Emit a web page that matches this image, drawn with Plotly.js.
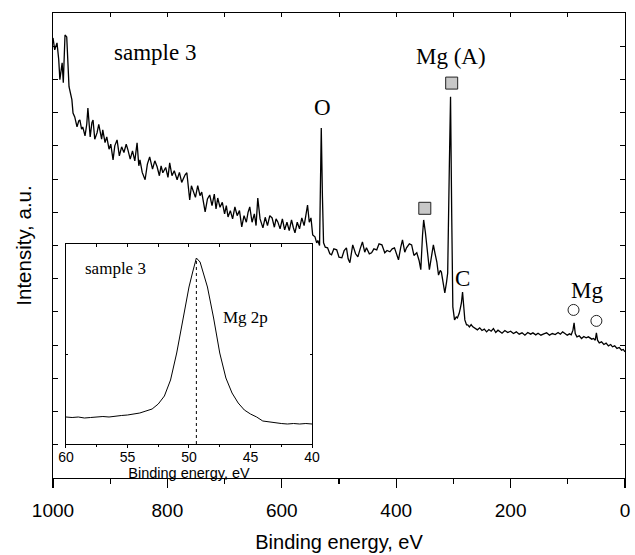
<!DOCTYPE html>
<html><head><meta charset="utf-8">
<script src="https://cdn.plot.ly/plotly-3.0.1.min.js"></script>
<style>html,body{margin:0;padding:0;background:#fff}#chart{width:635px;height:555px}</style>
</head><body><div id="chart"></div><script>
// Survey spectrum (binding energy, eV) and intensity (a.u.)
const energy = [
1000,997,993,990,988,984,982,979,976,972,
967,965,962,958,955,953,950,948,944,941,
939,935,932,930,927,923,920,918,915,913,
909,906,902,899,895,892,888,884,880,876,
872,869,865,861,857,853,850,848,844,839,
835,831,826,822,818,814,811,808,803,799,
796,792,788,783,779,775,769,766,761,758,
755,751,747,743,740,737,734,730,726,722,
718,715,712,708,704,700,697,694,690,686,
682,678,674,670,666,662,659,656,652,648,
645,642,638,633,629,625,621,617,613,610,
607,603,599,595,591,587,583,580,577,573,
569,565,561,558,555,552,549,546,542,539,
537,534,533,531,529,527,524,520,516,513,
509,504,500,495,491,487,484,481,478,476,
471,467,463,459,455,452,447,443,439,434,
430,425,420,416,411,407,403,399,396,392,
389,385,382,377,373,369,364,360,357,354,
352,349,347,344,342,338,335,332,329,326,
323,321,318,315,312,310,307,305,303,301,
298,295,293,290,288,286,284,282,280,277,
275,272,269,266,262,258,254,250,246,242,
238,234,230,226,222,219,215,210,205,200,
195,190,185,180,175,170,165,161,156,152,
147,142,137,132,127,122,117,113,109,105,
101,97,94,91,89,87,84,80,76,72,
68,64,62,58,55,52,50,48,45,41,
37,33,29,25,22,18,14,10,6,3,0];
const intensity = [
13.25,12.89,13.10,12.60,11.99,12.50,11.90,13.34,13.28,11.78,
11.39,10.99,10.87,10.57,10.75,10.78,10.50,10.57,10.30,10.65,
11.14,10.27,10.70,10.78,10.20,10.39,10.65,10.48,10.20,10.48,
10.10,10.27,9.90,10.05,9.58,10.00,10.18,9.70,9.97,9.80,
10.05,9.88,9.60,9.85,9.55,10.09,9.40,9.58,9.20,8.98,
9.45,9.67,9.30,9.55,9.37,9.10,9.40,9.19,9.35,9.05,
9.49,9.10,9.25,8.98,9.20,8.90,9.13,9.19,8.37,8.80,
8.67,8.45,8.80,8.50,8.61,8.30,8.01,8.40,8.52,8.20,
8.55,8.10,8.43,8.15,8.30,7.95,8.20,7.86,8.05,7.80,
8.16,7.90,8.05,7.56,7.90,7.70,8.00,8.16,7.70,7.95,
7.60,8.43,7.80,7.53,7.85,7.60,7.90,7.83,7.55,7.80,
7.71,7.50,7.80,7.47,7.70,7.45,7.77,7.55,7.38,7.70,
7.50,7.83,7.60,7.90,8.22,7.70,7.83,7.32,7.26,7.08,
7.15,7.00,8.00,10.54,8.50,7.08,6.95,6.93,6.75,6.72,
6.90,6.87,6.65,6.63,6.85,6.93,6.60,6.48,6.80,7.02,
6.75,6.66,6.90,7.11,6.80,6.93,6.75,6.78,6.90,6.87,
7.05,7.02,6.78,6.85,6.81,6.90,6.93,6.70,6.57,6.95,
7.17,6.80,6.93,7.05,7.02,6.70,6.78,6.55,6.27,7.30,
7.77,7.40,7.10,6.60,6.27,6.70,7.02,6.75,6.51,6.11,
6.25,6.20,5.90,5.57,5.90,6.17,9.50,11.48,8.00,5.15,
4.76,4.85,4.82,4.95,5.10,5.27,5.60,5.00,4.76,4.61,
4.61,4.55,4.62,4.55,4.50,4.46,4.52,4.44,4.48,4.40,
4.47,4.42,4.50,4.38,4.45,4.40,4.36,4.44,4.38,4.42,
4.35,4.40,4.33,4.37,4.30,4.38,4.33,4.37,4.31,4.36,
4.30,4.34,4.37,4.30,4.35,4.32,4.38,4.33,4.40,4.35,
4.30,4.34,4.31,4.45,4.67,4.35,4.25,4.28,4.20,4.26,
4.22,4.25,4.22,4.18,4.20,4.15,4.37,4.15,4.07,4.10,
4.02,4.06,3.98,4.02,3.95,3.98,3.90,3.93,3.85,3.87,3.80];

// Peak markers (Auger squares, Mg circles)
const squareEnergy = [303, 350];
const squareLevel = [11.89, 8.12];
const circleEnergy = [90, 50];
const circleLevel = [5.06, 4.73];

// Peak labels
const peakLabels = ['O', 'Mg (A)', 'C', 'Mg'];
const peakLabelEnergy = [528, 305, 284, 67];
const peakLabelLevel = [11.14, 12.68, 6.02, 5.66];
const sampleLabel = 'sample 3';
const sampleLabelEnergy = 822;
const sampleLabelLevel = 12.8;

// Inset: Mg 2p region
const insetEnergy = [60,59.5,59,58.5,58,57.5,57,56.5,56,55.5,55,
54.5,54,53.5,53,52.5,52,51.5,51,50.5,50,
49.7,49.4,49.1,48.8,48.5,
48,47.5,47,46.5,46,45.5,45,44.5,44,43.5,43,42.5,42,41.5,41,40.5,40];
const insetIntensity = [27,26.5,27,26,26.5,27,27.5,27,28,28.5,29,
30,31,33,35,40,48,64,91,124,157,
172,186,182,169,157,
126,91,66,51,41,34,30,27,23,22,21,20.5,20,20.5,20,20.5,20];
const insetLabels = ['sample 3', 'Mg 2p'];
const insetLabelEnergy = [56.0, 45.4];
const insetLabelLevel = [176, 127];

let pk = 0;
for (let i = 1; i < insetIntensity.length; i++) if (insetIntensity[i] > insetIntensity[pk]) pk = i;

const serif = 'Liberation Serif, Times New Roman, serif';
const sans = 'Liberation Sans, Arial, sans-serif';

const traces = [
  {x: energy, y: intensity, type: 'scatter', mode: 'lines', line: {color: '#000', width: 1.3}, xaxis: 'x', yaxis: 'y', hoverinfo: 'skip'},
  {x: squareEnergy, y: squareLevel, type: 'scatter', mode: 'markers', marker: {symbol: 'square', size: 12, color: '#c8c8c8', line: {color: '#222', width: 1}}, xaxis: 'x', yaxis: 'y'},
  {x: circleEnergy, y: circleLevel, type: 'scatter', mode: 'markers', marker: {symbol: 'circle', size: 11, color: '#fff', line: {color: '#222', width: 1}}, xaxis: 'x', yaxis: 'y'},
  {x: [], y: [], type: 'scatter', mode: 'lines', xaxis: 'x3', yaxis: 'y', hoverinfo: 'skip'},
  {x: insetEnergy, y: insetIntensity, type: 'scatter', mode: 'lines', line: {color: '#000', width: 1}, xaxis: 'x2', yaxis: 'y2', hoverinfo: 'skip'},
  {x: [insetEnergy[pk], insetEnergy[pk]], y: [0, insetIntensity[pk]], type: 'scatter', mode: 'lines', line: {color: '#000', width: 1, dash: 'dot'}, xaxis: 'x2', yaxis: 'y2', hoverinfo: 'skip'},
  {x: [], y: [], type: 'scatter', mode: 'lines', xaxis: 'x4', yaxis: 'y2', hoverinfo: 'skip'}
];

const annotations = [];
peakLabels.forEach((t, i) => annotations.push({x: peakLabelEnergy[i], y: peakLabelLevel[i], xref: 'x', yref: 'y', text: t, showarrow: false, xanchor: 'center', yanchor: 'middle', font: {family: serif, size: 23, color: '#000'}}));
annotations.push({x: sampleLabelEnergy, y: sampleLabelLevel, xref: 'x', yref: 'y', text: sampleLabel, showarrow: false, xanchor: 'center', yanchor: 'middle', font: {family: serif, size: 23, color: '#000'}});
insetLabels.forEach((t, i) => annotations.push({x: insetLabelEnergy[i], y: insetLabelLevel[i], xref: 'x2', yref: 'y2', text: t, showarrow: false, xanchor: 'center', yanchor: 'middle', font: {family: serif, size: 17, color: '#000'}}));

const ax = {showgrid: false, zeroline: false, showline: true, linecolor: '#000', linewidth: 1.2, tickcolor: '#000'};

const layout = {
  width: 635, height: 555,
  margin: {l: 53, r: 10, t: 13, b: 77},
  paper_bgcolor: '#fff', plot_bgcolor: '#fff',
  showlegend: false,
  font: {family: sans, color: '#000'},
  xaxis: Object.assign({}, ax, {range: [1000, 0], domain: [0, 1], anchor: 'y', tick0: 0, dtick: 200, ticks: 'outside', ticklen: 9, tickwidth: 1.2,
    minor: {dtick: 100, ticks: 'outside', ticklen: 5, tickwidth: 1.2, tickcolor: '#000'}, mirror: true, ticklabelstandoff: 6,
    tickfont: {size: 19, family: sans}, title: {text: 'Binding energy, eV', font: {size: 20, family: sans}, standoff: 15}}),
  xaxis3: {overlaying: 'x', side: 'top', anchor: 'y', range: [1000, 0], tick0: 0, dtick: 100, ticks: 'inside', ticklen: 4, tickwidth: 1, tickcolor: '#000', showticklabels: false, showgrid: false, zeroline: false, showline: false},
  yaxis: Object.assign({}, ax, {range: [0, 14], domain: [0, 1], anchor: 'x', dtick: 1, ticks: 'inside', ticklen: 5, tickwidth: 1, mirror: 'ticks', showticklabels: false,
    title: {text: 'Intensity, a.u.\u00a0\u00a0\u00a0\u00a0\u00a0\u00a0\u00a0', font: {size: 20.5, family: sans}, standoff: 14}}),
  xaxis2: Object.assign({}, ax, {domain: [0.0227, 0.4528], anchor: 'y2', range: [60, 40], tick0: 40, dtick: 5, ticks: 'outside', ticklen: 3, tickwidth: 1, linewidth: 1,
    minor: {dtick: 2.5, ticks: 'outside', ticklen: 2, tickwidth: 1, tickcolor: '#000'}, mirror: true, ticklabelstandoff: -3,
    tickfont: {size: 14, family: sans}, title: {text: 'Binding energy, eV', font: {size: 14.5, family: sans}, standoff: 0}}),
  xaxis4: {overlaying: 'x2', side: 'top', anchor: 'y2', range: [60, 40], tick0: 40, dtick: 2.5, ticks: 'inside', ticklen: 3, tickwidth: 1, tickcolor: '#000', showticklabels: false, showgrid: false, zeroline: false, showline: false},
  yaxis2: Object.assign({}, ax, {domain: [0.0731, 0.5032], anchor: 'x2', range: [0, 200], tick0: 90, dtick: 200, ticks: 'inside', ticklen: 2, tickwidth: 1, linewidth: 1, mirror: 'ticks', showticklabels: false}),
  annotations: annotations
};

Plotly.newPlot('chart', traces, layout, {displayModeBar: false, staticPlot: true});
</script></body></html>
